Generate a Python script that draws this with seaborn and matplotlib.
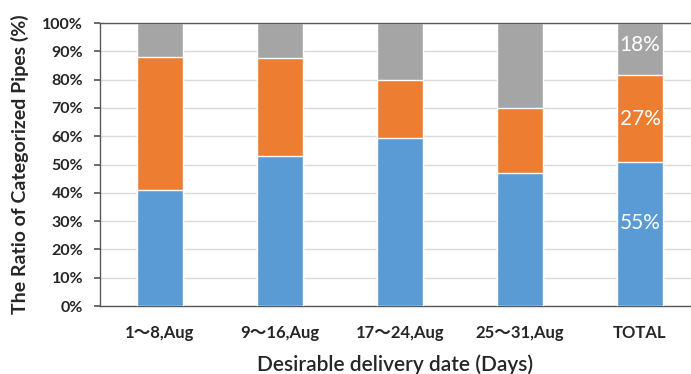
import numpy as np
import pandas as pd
import seaborn as sns
import matplotlib.pyplot as plt
from matplotlib.ticker import PercentFormatter

# data (percent of pipes per delivery window)
categories = ['1〜8,Aug', '9〜16,Aug', '17〜24,Aug', '25〜31,Aug', 'TOTAL']
blue_vals = [41, 53, 59.5, 47, 51]
orange_vals = [47, 34.5, 20.5, 23, 30.5]
gray_vals = [12, 12.5, 20, 30, 18.5]
total_labels = ['55%', '27%', '18%']

colors = {'blue': '#5B9BD5', 'orange': '#ED7D31', 'gray': '#A5A5A5'}

sns.set_theme(style='white')
plt.rcParams['font.family'] = ['Lato', 'Noto Sans CJK JP', 'DejaVu Sans']

df = pd.DataFrame({'cat': categories, 'blue': blue_vals,
                   'orange': orange_vals, 'gray': gray_vals})
df['lvl2'] = df['blue'] + df['orange']
df['lvl3'] = df['lvl2'] + df['gray']

fig = plt.figure(figsize=(6.91, 3.74), dpi=100)
ax = fig.add_axes([0.1447, 0.1818, 0.8553, 0.7567])

# stacked look: draw cumulative heights from the top down
sns.barplot(data=df, x='cat', y='lvl3', color=colors['gray'], width=0.38,
            saturation=1, ax=ax, zorder=2)
sns.barplot(data=df, x='cat', y='lvl2', color=colors['orange'], width=0.38,
            saturation=1, ax=ax, zorder=3)
sns.barplot(data=df, x='cat', y='blue', color=colors['blue'], width=0.38,
            saturation=1, ax=ax, zorder=4)

# white labels on the TOTAL bar
last = len(categories) - 1
mids = [df['blue'][last] / 2 + 4,
        df['blue'][last] + df['orange'][last] / 2,
        df['lvl2'][last] + df['gray'][last] / 2 + 1.5]
for y, txt in zip(mids, total_labels):
    ax.text(last, y, txt, color='white', ha='center', va='center',
            fontsize=15, zorder=5)

ax.set_ylim(0, 100)
ax.set_xlim(-0.5, 4.425)
ax.set_yticks(np.arange(0, 101, 10))
ax.yaxis.set_major_formatter(PercentFormatter(decimals=0))
ax.yaxis.grid(True, color='#D9D9D9', linewidth=1, zorder=0)
ax.set_axisbelow(True)

for lbl in ax.get_yticklabels():
    lbl.set_fontweight('bold')
    lbl.set_fontsize(11.5)
for lbl in ax.get_xticklabels():
    lbl.set_fontweight('bold')
    lbl.set_fontsize(12)
ax.tick_params(axis='y', left=True, length=4, color='#595959', pad=8)
ax.tick_params(axis='x', bottom=False, pad=8)

for side in ['left', 'bottom', 'top']:
    ax.spines[side].set_color('#595959')
    ax.spines[side].set_linewidth(1)
ax.spines['right'].set_visible(False)

ax.set_ylabel('The Ratio of Categorized Pipes (%)', fontsize=14,
              fontweight='bold', labelpad=10)
ax.set_xlabel('Desirable delivery date (Days)', fontsize=15,
              fontweight='semibold', labelpad=9)

plt.savefig('out.png', dpi=100)
